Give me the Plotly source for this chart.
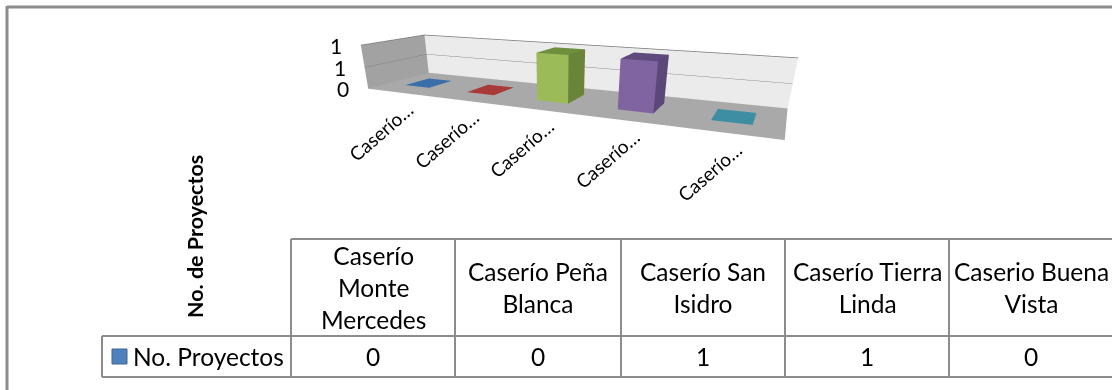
import plotly.graph_objects as go

categories_short = ["Caserío…"] * 5
categories = ["Caserío<br>Monte<br>Mercedes", "Caserío Peña<br>Blanca", "Caserío San<br>Isidro", "Caserío Tierra<br>Linda", "Caserio Buena<br>Vista"]
values = [0, 0, 1, 1, 0]
series_name = "No. Proyectos"
y_title = "No. de Proyectos"
tick_vals = [0, 0.5, 1]
tick_text = ["0", "1", "1"]

W, H = 1112, 390
eye = dict(x=1.4116, y=-3.1008, z=0.6432)
center = dict(x=0.1345, y=-0.3747, z=-0.7623)
box = (3.0, 0.7369, 0.3267)

face_colors = [("#4F81BD", "#3F6797", "#3A6EA8"), ("#C0504D", "#9A403E", "#A83A38"), ("#9BBB59", "#6A8539", "#6F8F3C"),
               ("#8064A2", "#5C4779", "#5F4A7E"), ("#4BACC6", "#3A8CA2", "#3D8DA3")]
bar_half = 0.2
d0, d1 = 0.3, 0.7
fig = go.Figure()


def quad_mesh(quads, colors):
    xs, ys, zs, i, j, k, fc = [], [], [], [], [], [], []
    for q, c in zip(quads, colors):
        n = len(xs)
        for v in q:
            xs.append(v[0]); ys.append(v[1]); zs.append(v[2])
        i += [n, n]; j += [n + 1, n + 2]; k += [n + 2, n + 3]; fc += [c, c]
    return go.Mesh3d(x=xs, y=ys, z=zs, i=i, j=j, k=k, facecolor=fc, flatshading=True, hoverinfo="skip",
                     lighting=dict(ambient=1, diffuse=0, specular=0, fresnel=0))


x0, x1 = -0.5, len(values) - 0.5
zt = max(tick_vals)
fl = -0.008
fig.add_trace(quad_mesh([
    [(x0, 0, fl), (x1, 0, fl), (x1, 1, fl), (x0, 1, fl)],
    [(x0, 0, fl), (x0, 1, fl), (x0, 1, zt), (x0, 0, zt)],
    [(x0, 1, fl), (x1, 1, fl), (x1, 1, zt), (x0, 1, zt)]], ["#A9A9A9", "#A2A2A2", "#EBEBEB"]))
for t in tick_vals[1:]:
    fig.add_trace(go.Scatter3d(x=[x0, x0, x1], y=[0, 1, 1], z=[t, t, t], mode="lines",
                               line=dict(color="#787878", width=1.5), hoverinfo="skip"))
for idx, v in enumerate(values):
    a, b = idx - bar_half, idx + bar_half
    cf, cs, ct = face_colors[idx]
    fig.add_trace(quad_mesh([
        [(a, d0, v), (b, d0, v), (b, d1, v), (a, d1, v)],
        [(a, d0, 0), (b, d0, 0), (b, d0, v), (a, d0, v)],
        [(b, d0, 0), (b, d1, 0), (b, d1, v), (b, d0, v)]], [ct, cf, cs]))

FONT = "Lato"
scene_ann = []
for t, l in zip(tick_vals, tick_text):
    scene_ann.append(dict(x=x0, y=0, z=t, text=l, showarrow=False, xanchor="right", xshift=-17,
                          font=dict(family=FONT, size=21, color="#000")))
for idx, l in enumerate(categories_short):
    scene_ann.append(dict(x=idx, y=0, z=0, text=l, showarrow=False, textangle=-41, xshift=-17, yshift=-39,
                          font=dict(family=FONT, size=19, color="#000")))
pad = 0.04
spans = (x1 - x0, 1.0, 1.0)
aspect = dict(x=box[0] * (spans[0] + 2 * pad) / spans[0], y=box[1] * (1 + 2 * pad), z=box[2] * (1 + 2 * pad))
fig.update_layout(
    width=W, height=H, margin=dict(l=0, r=0, t=0, b=0), paper_bgcolor="white", showlegend=False,
    scene=dict(domain=dict(x=[0, 1], y=[0, 1]), bgcolor="rgba(0,0,0,0)", aspectmode="manual", aspectratio=aspect,
               camera=dict(eye=eye, center=center, up=dict(x=0, y=0, z=1), projection=dict(type="perspective")),
               xaxis=dict(visible=False, range=[x0 - pad, x1 + pad]),
               yaxis=dict(visible=False, range=[-pad, 1 + pad]),
               zaxis=dict(visible=False, range=[-pad, 1 + pad]),
               annotations=scene_ann))
px = lambda v: v / W
py = lambda v: 1 - v / H
LINE = "#8C8C8C"
edges = [102, 291, 455, 621, 785, 949, 1113]
top, mid, bot = 239, 336, 377


def seg(a, b, c, d, w=2):
    fig.add_shape(type="line", xref="paper", yref="paper", x0=px(a), y0=py(b), x1=px(c), y1=py(d),
                  line=dict(color=LINE, width=w))


seg(7, 7, 1112, 7, 3)
seg(7, 6, 7, 390, 3)
seg(edges[1], top, edges[-1], top)
seg(edges[0], mid, edges[-1], mid)
seg(edges[0], bot, edges[-1], bot)
seg(edges[0], mid, edges[0], bot)
for e in edges[1:-1]:
    seg(e, top, e, bot)
ann = []
common = dict(xref="paper", yref="paper", showarrow=False, xanchor="center", yanchor="middle")
tf = dict(family=FONT, size=24.5, color="#000")
for idx, (c, v) in enumerate(zip(categories, values)):
    xc = (edges[idx + 1] + edges[idx + 2]) / 2
    ann.append(dict(x=px(xc), y=py((top + mid) / 2), text=c, font=tf, **common))
    ann.append(dict(x=px(xc), y=py((mid + bot) / 2), text=str(v), font=tf, **common))
ann.append(dict(x=px(131), y=py((mid + bot) / 2), text=series_name, xref="paper", yref="paper", showarrow=False,
                xanchor="left", yanchor="middle", font=tf))
ann.append(dict(x=px(195), y=py(237), text="<b>" + y_title + "</b>", textangle=-90,
                font=dict(family=FONT, size=21.5, color="#000"), **common))
fig.update_layout(annotations=ann)
fig.add_shape(type="rect", xref="paper", yref="paper", x0=px(112), x1=px(127), y0=py(349), y1=py(364),
              fillcolor="#4F81BD", line=dict(color="#3F6797", width=1))
fig.write_html("out.html", post_script="document.body.style.margin='0';", config=dict(displayModeBar=False))
